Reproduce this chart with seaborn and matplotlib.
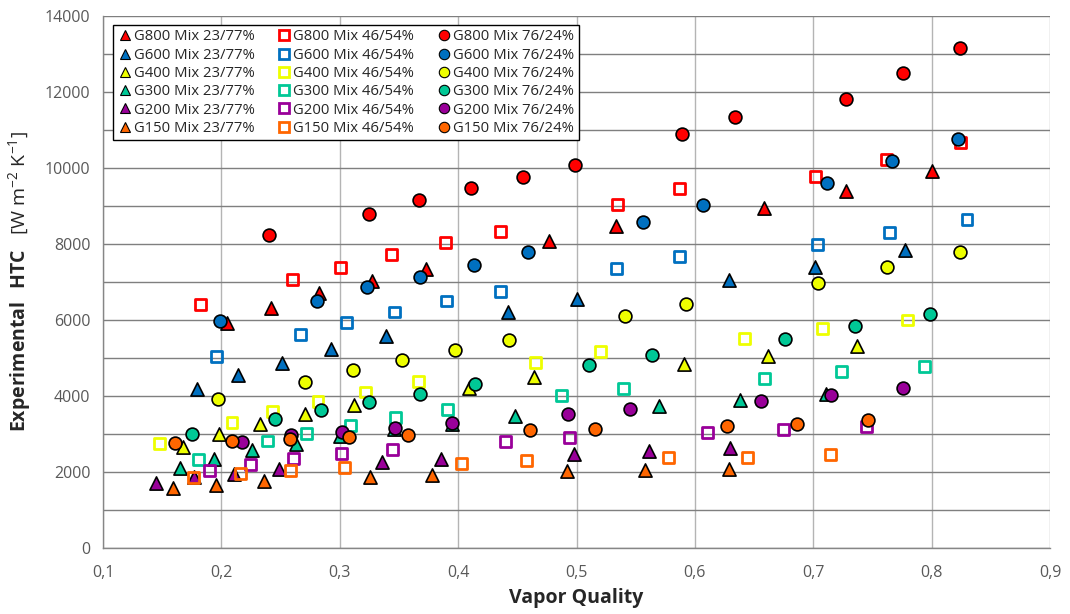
import numpy as np
import pandas as pd
import matplotlib
matplotlib.use("Agg")
import matplotlib.pyplot as plt
import seaborn as sns

# Vapor quality (x) and heat transfer coefficient (W m-2 K-1) per mass flux and mixture
g800_23_x = [0.205, 0.242, 0.2825, 0.327, 0.373, 0.477, 0.533, 0.6587, 0.7274, 0.800]
g800_23_y = [5930, 6310, 6700, 7030, 7345, 8075, 8480, 8945, 9385, 9910]
g800_46_x = [0.182, 0.260, 0.3005, 0.344, 0.389, 0.4356, 0.535, 0.587, 0.7017, 0.7615, 0.824]
g800_46_y = [6420, 7070, 7390, 7730, 8040, 8330, 9050, 9450, 9780, 10220, 10680]
g800_76_x = [0.240, 0.325, 0.367, 0.411, 0.455, 0.499, 0.589, 0.634, 0.728, 0.7757, 0.8237]
g800_76_y = [8240, 8790, 9150, 9465, 9755, 10090, 10900, 11350, 11820, 12490, 13150]

g600_23_x = [0.179, 0.214, 0.251, 0.293, 0.339, 0.442, 0.500, 0.629, 0.7013, 0.7776]
g600_23_y = [4190, 4550, 4870, 5225, 5570, 6200, 6545, 7055, 7405, 7830]
g600_46_x = [0.196, 0.267, 0.306, 0.346, 0.390, 0.436, 0.534, 0.587, 0.7034, 0.7647, 0.8299]
g600_46_y = [5030, 5620, 5930, 6210, 6500, 6745, 7345, 7680, 7995, 8310, 8645]
g600_76_x = [0.199, 0.281, 0.323, 0.368, 0.413, 0.459, 0.556, 0.6065, 0.712, 0.7666, 0.8226]
g600_76_y = [5980, 6500, 6860, 7140, 7460, 7790, 8575, 9025, 9605, 10185, 10750]

g400_23_x = [0.168, 0.1977, 0.2325, 0.2703, 0.312, 0.409, 0.464, 0.591, 0.662, 0.7373]
g400_23_y = [2655, 2990, 3270, 3535, 3755, 4220, 4500, 4835, 5055, 5320]
g400_46_x = [0.148, 0.209, 0.243, 0.2816, 0.322, 0.3666, 0.4655, 0.520, 0.6418, 0.708, 0.780]
g400_46_y = [2745, 3305, 3580, 3845, 4105, 4380, 4890, 5160, 5515, 5770, 6000]
g400_76_x = [0.197, 0.271, 0.311, 0.353, 0.397, 0.443, 0.541, 0.5929, 0.704, 0.7627, 0.824]
g400_76_y = [3910, 4370, 4680, 4940, 5205, 5470, 6100, 6430, 6965, 7400, 7785]

g300_23_x = [0.1647, 0.1935, 0.226, 0.2627, 0.300, 0.346, 0.395, 0.4477, 0.5697, 0.6378, 0.711]
g300_23_y = [2100, 2340, 2570, 2745, 2960, 3130, 3260, 3480, 3730, 3890, 4040]
g300_46_x = [0.1808, 0.2386, 0.272, 0.309, 0.347, 0.391, 0.487, 0.540, 0.6587, 0.724, 0.7937]
g300_46_y = [2340, 2815, 3025, 3225, 3445, 3640, 4020, 4200, 4450, 4635, 4785]
g300_76_x = [0.175, 0.2457, 0.284, 0.325, 0.368, 0.414, 0.5107, 0.5636, 0.676, 0.7356, 0.799]
g300_76_y = [3010, 3405, 3640, 3845, 4060, 4305, 4810, 5075, 5495, 5830, 6150]

g200_23_x = [0.1446, 0.1765, 0.2104, 0.2486, 0.336, 0.3856, 0.4977, 0.5615, 0.630]
g200_23_y = [1705, 1865, 1950, 2085, 2275, 2350, 2480, 2550, 2630]
g200_46_x = [0.190, 0.2246, 0.261, 0.3014, 0.3446, 0.440, 0.4937, 0.611, 0.675, 0.745]
g200_46_y = [2040, 2200, 2350, 2480, 2580, 2805, 2900, 3035, 3115, 3200]
g200_76_x = [0.2175, 0.2585, 0.302, 0.347, 0.395, 0.493, 0.545, 0.656, 0.7147, 0.776]
g200_76_y = [2785, 2965, 3050, 3170, 3295, 3535, 3670, 3870, 4020, 4205]

g150_23_x = [0.1595, 0.1954, 0.2364, 0.3254, 0.378, 0.492, 0.5579, 0.629]
g150_23_y = [1585, 1670, 1775, 1880, 1925, 2015, 2060, 2085]
g150_46_x = [0.1765, 0.216, 0.2585, 0.304, 0.4025, 0.458, 0.5777, 0.6446, 0.7147]
g150_46_y = [1865, 1950, 2040, 2110, 2235, 2305, 2375, 2390, 2455]
g150_76_x = [0.161, 0.209, 0.2576, 0.308, 0.358, 0.461, 0.516, 0.627, 0.686, 0.746]
g150_76_y = [2760, 2815, 2860, 2920, 2980, 3095, 3140, 3200, 3270, 3360]

fluxes = ["G800", "G600", "G400", "G300", "G200", "G150"]
mixes = ["Mix 23/77%", "Mix 46/54%", "Mix 76/24%"]
colors = {"G800": "#FF0000", "G600": "#0070C0", "G400": "#EEFF00",
          "G300": "#00C896", "G200": "#990099", "G150": "#FF6600"}
series = {
    "G800": [(g800_23_x, g800_23_y), (g800_46_x, g800_46_y), (g800_76_x, g800_76_y)],
    "G600": [(g600_23_x, g600_23_y), (g600_46_x, g600_46_y), (g600_76_x, g600_76_y)],
    "G400": [(g400_23_x, g400_23_y), (g400_46_x, g400_46_y), (g400_76_x, g400_76_y)],
    "G300": [(g300_23_x, g300_23_y), (g300_46_x, g300_46_y), (g300_76_x, g300_76_y)],
    "G200": [(g200_23_x, g200_23_y), (g200_46_x, g200_46_y), (g200_76_x, g200_76_y)],
    "G150": [(g150_23_x, g150_23_y), (g150_46_x, g150_46_y), (g150_76_x, g150_76_y)],
}

sns.set_style("white")
plt.rcParams["font.family"] = ["Open Sans", "DejaVu Sans"]
plt.rcParams["mathtext.fontset"] = "custom"
plt.rcParams["mathtext.rm"] = "Open Sans"
plt.rcParams["mathtext.bf"] = "Open Sans:bold"

fig = plt.figure(figsize=(10.7, 6.14), dpi=100)
ax = fig.add_axes([103 / 1070, 1 - 548 / 614, (1050 - 103) / 1070, (548 - 16) / 614])

marker_style = {0: "^", 1: "s", 2: "o"}
sizes = {0: 90, 1: 62, 2: 85}

handles = {}
for g in fluxes:
    for k, (xs, ys) in enumerate(series[g]):
        df = pd.DataFrame({"x": xs, "y": ys})
        col = colors[g]
        if k == 1:
            kw = dict(facecolor="none", edgecolor=col, linewidth=2.0)
        else:
            kw = dict(color=col, edgecolor="black", linewidth=1.2)
        sns.scatterplot(data=df, x="x", y="y", ax=ax, marker=marker_style[k],
                        s=sizes[k], zorder=3, legend=False, **kw)
        coll = ax.collections[-1]
        if k == 1:
            coll.set_facecolor("none")
            coll.set_edgecolor(col)
        hkw = dict(marker=marker_style[k], linestyle="none", markersize=7.5)
        if k == 1:
            hkw.update(markerfacecolor="white", markeredgecolor=col, markeredgewidth=2.0,
                       markersize=7)
        else:
            hkw.update(markerfacecolor=col, markeredgecolor="black", markeredgewidth=0.8)
        handles[(g, k)] = (plt.Line2D([], [], **hkw), f"{g} {mixes[k]}")

ax.set_xlim(0.1, 0.9)
ax.set_ylim(0, 14000)
ax.set_xticks(np.arange(0.1, 0.91, 0.1))
ax.set_xticks(np.arange(0.15, 0.9, 0.1), minor=True)
ax.set_xticklabels([f"{v:.1f}".replace(".", ",") for v in np.arange(0.1, 0.91, 0.1)])
ax.set_yticks(np.arange(0, 14001, 1000))
ax.set_yticklabels([str(v) if v % 2000 == 0 else "" for v in range(0, 14001, 1000)])

ax.grid(axis="y", color="#7F7F7F", linewidth=1.0, zorder=0)
ax.grid(axis="x", color="#B4B4B4", linewidth=1.0, zorder=0)
ax.set_axisbelow(True)
for side in ["top", "right"]:
    ax.spines[side].set_visible(False)
for side in ["left", "bottom"]:
    ax.spines[side].set_color("#868686")
    ax.spines[side].set_linewidth(1.0)

ax.tick_params(axis="both", which="both", direction="out", color="#868686",
               labelcolor="#595959", labelsize=11.5, length=5, width=1, pad=4)
ax.tick_params(axis="x", which="minor", length=4)
ax.tick_params(axis="x", pad=7)

ax.set_xlabel("Vapor Quality", fontsize=14, fontweight="bold", color="#262626", labelpad=5)
ax.set_ylabel(r"$\mathbf{Experimental\ \ HTC}$   [W m$^{-2}$ K$^{-1}$]",
              fontsize=14, color="#262626", labelpad=8)

# Legend is filled row by row (one flux per row), so hand matplotlib column-major lists
hs, ls = [], []
for k in range(3):
    for g in fluxes:
        h, l = handles[(g, k)]
        hs.append(h)
        ls.append(l)

leg = ax.legend(hs, ls, ncol=3, loc="upper left",
                bbox_to_anchor=(113 / 1070, 1 - 25 / 614), bbox_transform=fig.transFigure,
                fontsize=10.7, frameon=True, fancybox=False, framealpha=1,
                edgecolor="black", handletextpad=0.1, handlelength=1.0,
                columnspacing=1.5, labelspacing=0.22, borderpad=0.3, borderaxespad=0)
leg.get_frame().set_linewidth(1.0)
for t in leg.get_texts():
    t.set_color("#262626")

fig.savefig("out.png", dpi=100)
